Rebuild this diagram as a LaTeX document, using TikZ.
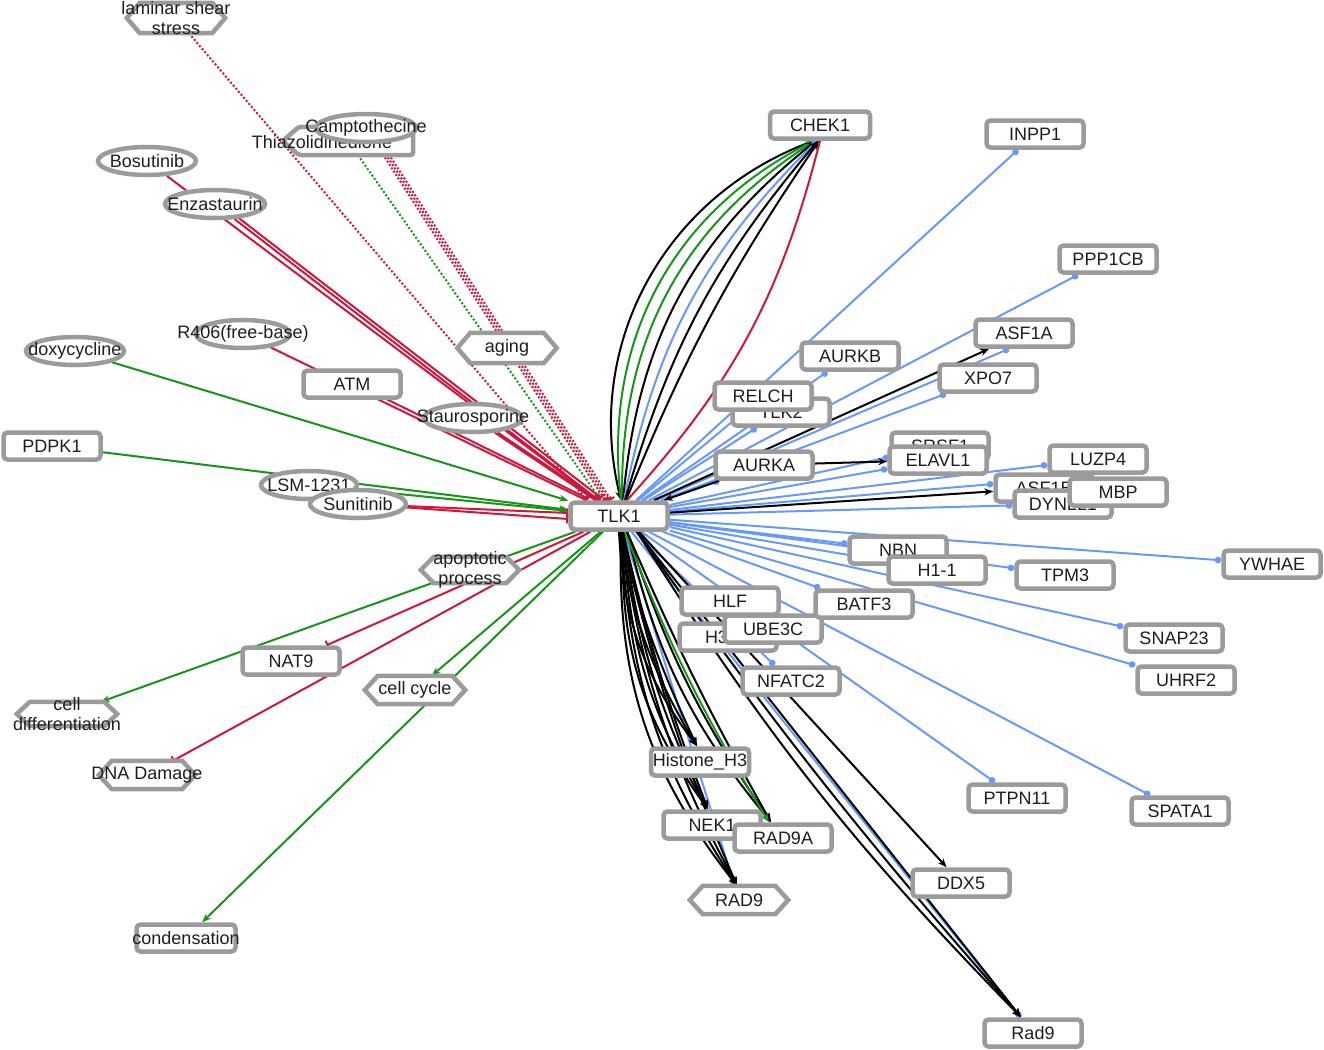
\documentclass[tikz,border=0pt]{standalone}
\usepackage{fontspec}
\setmainfont{Liberation Sans}
\usetikzlibrary{shapes.geometric,arrows.meta}
\pgfdeclarelayer{edges}
\pgfsetlayers{edges,main}
\definecolor{ebl}{RGB}{102,153,255}
\definecolor{egr}{RGB}{22,150,22}
\definecolor{erd}{RGB}{208,22,58}
\definecolor{ngr}{RGB}{155,155,155}
\definecolor{txt}{RGB}{30,30,30}
\newcommand{\labfont}{\fontsize{18}{20.5}\selectfont}
\newcommand{\hexnd}[6]{%
  \node[hexbox, minimum width=#4pt, minimum height=#5pt] (#1) at (#2,#3) {};
  \draw[hexline] (#1.west) -- ([xshift=13pt]#1.north west) -- ([xshift=-13pt]#1.north east) -- (#1.east) -- ([xshift=-13pt]#1.south east) -- ([xshift=13pt]#1.south west) -- cycle;
  \node[lbl] at (#1) {#6};
}
\tikzset{
  box/.style={rectangle, rounded corners=4pt, draw=ngr, line width=4.5pt, fill=white, minimum width=97pt, minimum height=27pt, inner sep=0pt, font=\labfont, text=txt},
  ell/.style={ellipse, draw=ngr, line width=4.5pt, fill=white, minimum width=98pt, minimum height=28pt, inner sep=0pt, font=\labfont, text=txt},
  hexbox/.style={rectangle, inner sep=0pt},
  hexline/.style={draw=ngr, line width=4.5pt, fill=white},
  lbl/.style={font=\labfont, text=txt, align=center, inner sep=0pt},
  ed/.style={line width=2pt},
  eb/.style={ed, draw=ebl, -{Circle[length=6.5pt]}},
  ek/.style={ed, draw=black, -{Stealth[length=9pt,width=7pt]}},
  eg/.style={ed, draw=egr, -{Stealth[length=9pt,width=7pt]}},
  er/.style={ed, draw=erd, -{Bar[width=9pt]}},
  erp/.style={ed, draw=erd},
  dotl/.style={dash pattern=on 2pt off 2pt},
}
\begin{document}
\begin{tikzpicture}[x=1pt,y=-1pt]
\useasboundingbox (0,0) rectangle (1324,1049);
% ---------- left side nodes ----------
\hexnd{lam}{176}{18}{98}{30}{laminar shear\\stress}
\node[ell] (bos) at (147,161) {\makebox[0pt]{Bosutinib}};
\node[ell, minimum width=100pt] (enz) at (215,204) {\makebox[0pt]{Enzastaurin}};
\node[hexbox, minimum width=130pt, minimum height=28pt] (thia) at (348,141) {};
\draw[hexline, rounded corners=3pt] (thia.west) -- ([xshift=16pt]thia.north west) -- (thia.north east) -- (thia.south east) -- ([xshift=16pt]thia.south west) -- cycle;
\node[lbl] at (322,142) {Thiazolidinedione};
\node[ell, minimum width=100pt] (camp) at (366,128) {\makebox[0pt]{Camptothecine}};
\node[ell, minimum width=94pt] (r406) at (243,334) {\makebox[0pt]{R406(free-base)}};
\node[ell] (doxy) at (75,351) {\makebox[0pt]{doxycycline}};
\node[box] (atm) at (352,384) {ATM};
\hexnd{aging}{507}{348}{99}{30}{aging}
\node[ell] (stau) at (473,418) {\makebox[0pt]{Staurosporine}};
\node[box] (pdpk1) at (52,446) {PDPK1};
\node[ell, minimum width=96pt] (lsm) at (309,485) {\makebox[0pt]{LSM-1231}};
\node[ell, minimum width=96pt] (suni) at (358,504) {\makebox[0pt]{Sunitinib}};
\hexnd{apop}{470}{570}{98}{26}{apoptotic\\process}
\node[box] (nat9) at (291,661) {NAT9};
\hexnd{cellcyc}{415}{690}{100}{28}{cell cycle}
\hexnd{celldiff}{67}{714}{100}{24}{cell\\differentiation}
\hexnd{dna}{147}{775}{96}{28}{DNA Damage}
\node[box, minimum width=99pt] (cond) at (186,938) {\makebox[0pt]{condensation}};
% ---------- centre ----------
\node[box] (tlk1) at (619,516) {TLK1};
% ---------- right side nodes ----------
\node[box, minimum width=100pt] (chek1) at (820,125) {CHEK1};
\node[box] (inpp1) at (1035,134) {INPP1};
\node[box] (ppp1cb) at (1108,259) {PPP1CB};
\node[box] (asf1a) at (1024,333) {ASF1A};
\node[box] (aurkb) at (850,356) {AURKB};
\node[box] (xpo7) at (988,378) {XPO7};
\node[box] (tlk2) at (781,412) {TLK2};
\node[box] (relch) at (763,396) {RELCH};
\node[box] (aurka) at (764,465) {AURKA};
\node[box] (srsf1) at (940,446) {SRSF1};
\node[box] (elavl1) at (938,460) {ELAVL1};
\node[box] (luzp4) at (1098,459) {LUZP4};
\node[box] (asf1b) at (1044,488) {ASF1B};
\node[box] (dynll1) at (1063,504) {DYNLL1};
\node[box] (mbp) at (1118,492) {MBP};
\node[box] (nbn) at (898,550) {NBN};
\node[box] (h11) at (937,570) {H1-1};
\node[box] (tpm3) at (1065,575) {TPM3};
\node[box] (ywhae) at (1272,564) {YWHAE};
\node[box] (hlf) at (730,601) {HLF};
\node[box] (h3c1) at (728,637) {H3C1};
\node[box] (ube3c) at (773,629) {UBE3C};
\node[box] (batf3) at (864,604) {BATF3};
\node[box] (snap23) at (1174,638) {SNAP23};
\node[box] (uhrf2) at (1186,680) {UHRF2};
\node[box] (nfatc2) at (791,681) {NFATC2};
\node[box, minimum width=98pt] (histh3) at (700,762) {Histone\_H3};
\node[box] (ptpn11) at (1017,798) {PTPN11};
\node[box] (spata1) at (1180,811) {SPATA1};
\node[box] (nek1) at (712,825) {NEK1};
\node[box] (rad9a) at (783,838) {RAD9A};
\node[box] (ddx5) at (961,883) {DDX5};
\node[box] (rad9b) at (1033,1033) {Rad9};
\hexnd{rad9h}{739}{900}{98}{28}{RAD9}
% ---------- edges ----------
\begin{pgfonlayer}{edges}
% inputs from the left
\draw[er,dotl] (lam) -- ([xshift=-32pt]tlk1.north);
\draw[eg,dotl] (thia) -- ([xshift=-18pt]tlk1.north);
\foreach \s in {0,3,6} \draw[er,dotl,transform canvas={xshift=\s pt}] (camp) -- ([xshift=-14pt]tlk1.north);
\draw[er] (bos) -- (tlk1);
\draw[er] (enz) -- (tlk1);
\draw[er,transform canvas={xshift=3pt,yshift=2pt}] (enz) -- (tlk1);
\draw[er] (r406) -- (tlk1);
\draw[er,transform canvas={yshift=2pt}] (atm) -- (tlk1);
\draw[er] (stau) -- (tlk1);
\draw[er,transform canvas={xshift=3pt}] (stau) -- (tlk1);
\draw[eg] (doxy) -- (tlk1);
\draw[eg] (pdpk1) -- (tlk1);
\draw[eg] (lsm) -- (tlk1);
\draw[er] (suni) -- ([yshift=3pt]tlk1.west);
\draw[er] (suni) -- ([yshift=-3pt]tlk1.west);
% outputs to the left
\draw[eg] (tlk1) -- (celldiff);
\draw[er] (tlk1) -- (nat9);
\draw[er] (tlk1) -- (dna);
\draw[eg] (tlk1) -- (cellcyc);
\draw[eg] (tlk1) -- (cond);
% CHEK1 bundle
\draw[ek] ([xshift=-6pt]chek1.south) to[bend right=42] ([xshift=2pt]tlk1.north);
\draw[eg] ([xshift=2pt]tlk1.north) to[bend left=35] ([xshift=-6pt]chek1.south);
\draw[eg] ([xshift=3pt]tlk1.north) to[bend left=29] ([xshift=-5pt]chek1.south);
\draw[ek] ([xshift=4pt]tlk1.north) to[bend left=23] ([xshift=-4pt]chek1.south);
\draw[eb] ([xshift=5pt]tlk1.north) to[bend left=17] ([xshift=-3pt]chek1.south);
\draw[ek] ([xshift=6pt]tlk1.north) to[bend left=12] ([xshift=-2pt]chek1.south);
\draw[ek] ([xshift=7pt]tlk1.north) to[bend left=6] ([xshift=-1pt]chek1.south);
\draw[erp] ([xshift=8pt]tlk1.north) to[bend right=14] ([xshift=0pt]chek1.south);
% blue interactions
\foreach \t in {inpp1,ppp1cb,aurkb,xpo7,tlk2,relch,aurka,elavl1,srsf1,luzp4,dynll1,nbn,ywhae,tpm3,h11,snap23,uhrf2,batf3,nfatc2,ptpn11,spata1,rad9b,rad9h}
  \draw[eb] (tlk1) -- (\t);
\draw[eb] (tlk1) -- ([xshift=-15pt]asf1a.south);
\draw[eb] (tlk1) -- ([yshift=4pt]asf1b.west);
% black interactions
\draw[ek] (tlk1) -- (asf1a);
\draw[ek] (aurka) -- (tlk1);
\draw[ek] (aurka) -- (elavl1);
\draw[ek] (tlk1) -- (asf1b);
\draw[ek] ([xshift=20pt]tlk1.south) -- (ddx5);
\foreach \b in {0,3,6} \draw[ek] ([xshift=18pt]tlk1.south) to[bend right=\b] ([xshift=-12pt]rad9b.north);
\foreach \b in {4,9,14,19} \draw[ek] ([xshift=4pt]tlk1.south) to[bend right=\b] ([xshift=-4pt]nek1.north);
\foreach \b in {5,10,15,20} \draw[ek] ([xshift=2pt]tlk1.south) to[bend right=\b] ([xshift=-2pt]rad9h.north);
\foreach \b in {3,8,13} \draw[ek] ([xshift=8pt]tlk1.south) to[bend right=\b] ([xshift=-12pt]rad9a.north);
\draw[eg] ([xshift=6pt]tlk1.south) to[bend right=5] ([xshift=-14pt]rad9a.north);
\foreach \b in {5,11,17} \draw[ek] ([xshift=0pt]tlk1.south) to[bend right=\b] ([xshift=-3pt]histh3.north);
\end{pgfonlayer}
\end{tikzpicture}
\end{document}
